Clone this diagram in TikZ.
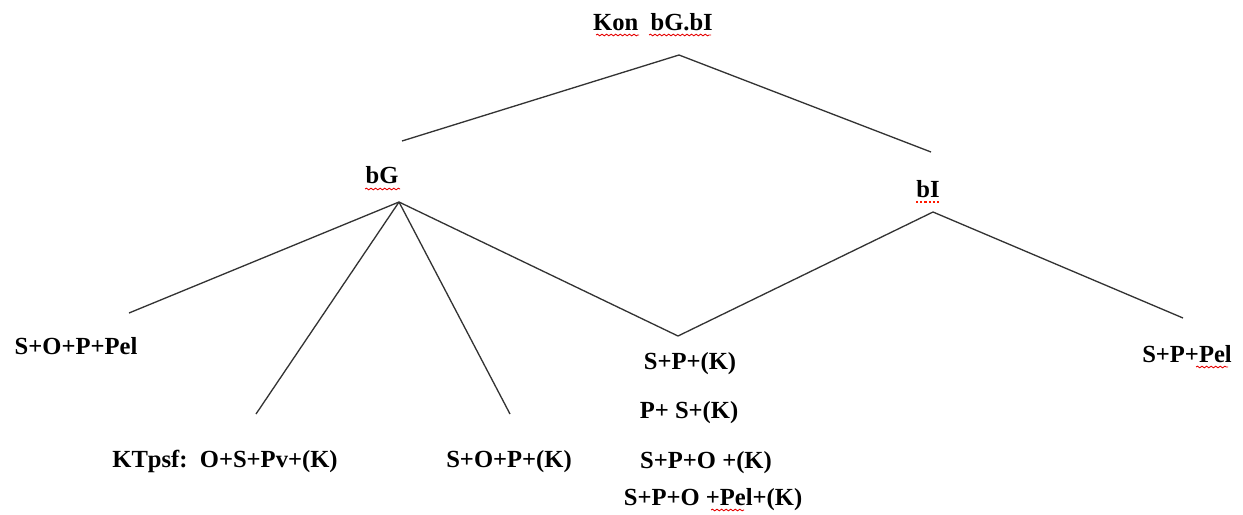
\documentclass[tikz,border=0pt]{standalone}
\usepackage{fontspec}
\setmainfont{Liberation Serif}
\usetikzlibrary{decorations.pathmorphing}

\tikzset{
	label/.style={font=\fontsize{14}{17}\selectfont\bfseries, inner sep=0pt, anchor=base},
	branch/.style={line width=0.75pt, black!80},
	wavy/.style={red!90!black, line width=0.5pt, decorate, decoration={snake, amplitude=0.45pt, segment length=2.6pt}},
	dotline/.style={red!80!orange, line width=0.9pt, dash pattern=on 1.2pt off 1.2pt}
}

\begin{document}
\begin{tikzpicture}[x=0.02cm, y=-0.02cm] % one unit = one pixel, y down
	\useasboundingbox (0,0) rectangle (1243,514);
	
	% labels
	\node[label] (root) at (653,30) {Kon\ \ bG.bI};
	\node[label] (bG) at (382,183) {bG};
	\node[label] (bI) at (928,197) {bI};
	\node[label] (sopPel) at (76,354) {S+O+P+Pel};
	\node[label] (ktpsf) at (225,467) {KTpsf:\ \ O+S+Pv+(K)};
	\node[label] (sopK) at (509,467) {S+O+P+(K)};
	\node[label] (spK) at (690,369) {S+P+(K)};
	\node[label] (psK) at (689,418) {P+ S+(K)};
	\node[label] (spoK) at (706,468) {S+P+O +(K)};
	\node[label] (spoPelK) at (713,505) {S+P+O +Pel+(K)};
	\node[label] (spPel) at (1187,362) {S+P+Pel};
	
	% branch ends
	\coordinate (top) at (679,55);
	\coordinate (topL) at (402,141);
	\coordinate (topR) at (931,152);
	\coordinate (bGtip) at (399,202);
	\coordinate (bItip) at (933,212);
	\coordinate (leafA) at (129,313);
	\coordinate (leafB) at (256,414);
	\coordinate (leafC) at (510,414);
	\coordinate (leafD) at (678,336);
	\coordinate (leafE) at (1183,318);
	
	% top split
	\draw[branch] (topL) -- (top) -- (topR);
	% under bG
	\draw[branch] (bGtip) -- (leafA);
	\draw[branch] (bGtip) -- (leafB);
	\draw[branch] (bGtip) -- (leafC);
	\draw[branch] (bGtip) -- (leafD);
	% under bI
	\draw[branch] (leafD) -- (bItip) -- (leafE);
	
	% spell check marks
	\draw[wavy] (596,35) -- (639,35);
	\draw[wavy] (649,35) -- (711,35);
	\draw[wavy] (365,189) -- (400,189);
	\draw[dotline] (916,202) -- (941,202);
	\draw[wavy] (1196,367) -- (1228,367);
	\draw[wavy] (711,510) -- (744,510);
\end{tikzpicture}
\end{document}
